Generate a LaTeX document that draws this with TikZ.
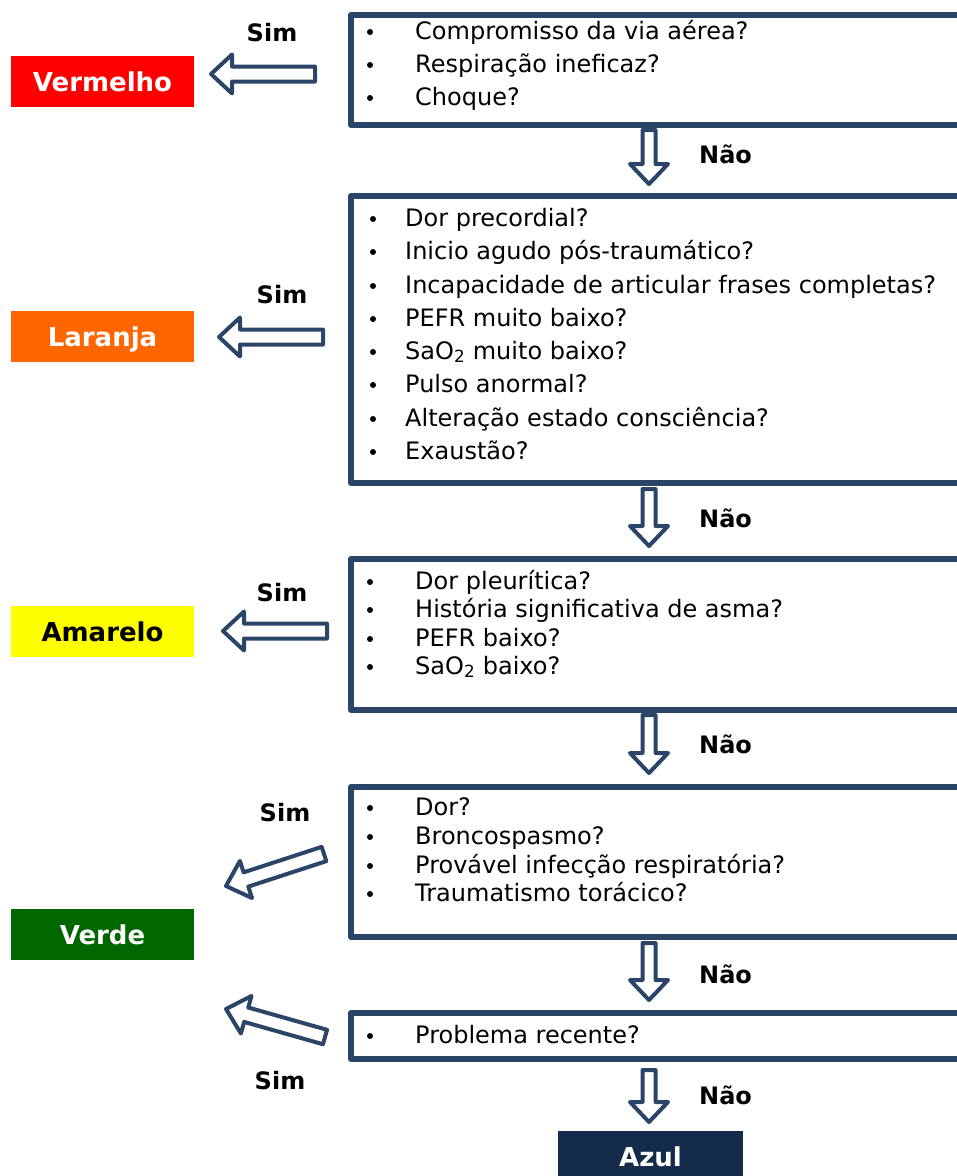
\documentclass[tikz,border=0pt]{standalone}
\usepackage{fontspec}
\setmainfont{DejaVu Sans}
\usetikzlibrary{calc}

\definecolor{frame}{HTML}{2A4568}
\definecolor{lvred}{HTML}{FF0000}
\definecolor{lvorange}{HTML}{FF6600}
\definecolor{lvyellow}{HTML}{FFFF00}
\definecolor{lvgreen}{HTML}{006600}
\definecolor{lvblue}{HTML}{152B4B}

% hollow block arrow from tail #1 to tip #2
% #3 shaft half-width, #4 head half-width, #5 head length
\newcommand{\blockarrow}[5]{%
  \coordinate (#1-#2-b) at ($(#2)!#5!(#1)$);
  \draw[blockarrow]
    ($(#1)!#3!90:(#2)$) -- ($(#1-#2-b)!#3!-90:(#1)$) -- ($(#1-#2-b)!#4!-90:(#1)$) -- (#2)
    -- ($(#1-#2-b)!#4!90:(#1)$) -- ($(#1-#2-b)!#3!90:(#1)$) -- ($(#1)!#3!-90:(#2)$) -- cycle;}

\tikzset{
  qbox/.style={draw=frame, line width=5.5pt, line join=round, anchor=north west,
    inner sep=0pt, minimum width=640pt},
  item/.style={anchor=base west, inner sep=0pt, font=\fontsize{24}{28}\selectfont},
  dot/.style={fill=black, circle, inner sep=0pt, minimum size=6pt},
  level/.style={minimum width=183pt, minimum height=51pt, inner sep=0pt,
    text height=19pt, text depth=0pt, font=\bfseries\fontsize{26}{30}\selectfont},
  answer/.style={inner sep=0pt, font=\bfseries\fontsize{24}{28}\selectfont},
  blockarrow/.style={draw=frame, line width=4pt, fill=white, line join=round}
}

\begin{document}
\begin{tikzpicture}[x=1pt, y=-1pt]
\useasboundingbox (0,0) rectangle (957,1176);
\clip (0,0) rectangle (957,1176);

% question boxes (running off the right edge)
\node[qbox, minimum height=110pt] (q1) at (348,12) {};
\node[qbox, minimum height=287pt] (q2) at (348,193) {};
\node[qbox, minimum height=151pt] (q3) at (348,556) {};
\node[qbox, minimum height=150pt] (q4) at (348,784) {};
\node[qbox, minimum height=46pt]  (q5) at (348,1010) {};

% questions
\foreach \y/\t [count=\i] in {39/{Compromisso da via aérea?},
    72/{Respiração ineficaz?}, 105/{Choque?}} {
  \node[dot] (q1-b\i) at (370,\y-7) {};
  \node[item] (q1-t\i) at (415,\y) {\t};
}
\foreach \y/\t [count=\i] in {226/{Dor precordial?},
    259/{Inicio agudo pós-traumático?},
    293/{Incapacidade de articular frases completas?},
    326/{PEFR muito baixo?},
    359/{SaO\textsubscript{2} muito baixo?},
    392/{Pulso anormal?},
    426/{Alteração estado consciência?},
    459/{Exaustão?}} {
  \node[dot] (q2-b\i) at (373,\y-7) {};
  \node[item] (q2-t\i) at (405,\y) {\t};
}
\foreach \y/\t [count=\i] in {589/{Dor pleurítica?},
    617/{História significativa de asma?},
    646/{PEFR baixo?},
    674/{SaO\textsubscript{2} baixo?}} {
  \node[dot] (q3-b\i) at (370,\y-7) {};
  \node[item] (q3-t\i) at (415,\y) {\t};
}
\foreach \y/\t [count=\i] in {815/{Dor?},
    844/{Broncospasmo?},
    873/{Provável infecção respiratória?},
    901/{Traumatismo torácico?}} {
  \node[dot] (q4-b\i) at (370,\y-7) {};
  \node[item] (q4-t\i) at (415,\y) {\t};
}
\node[dot] (q5-b1) at (370,1036) {};
\node[item] (q5-t1) at (415,1043) {Problema recente?};

% priority levels
\node[level, fill=lvred, text=white]    (vermelho) at (102.5,81.5)  {Vermelho};
\node[level, fill=lvorange, text=white] (laranja)  at (102.5,336.5) {Laranja};
\node[level, fill=lvyellow, text=black] (amarelo)  at (102.5,631.5) {Amarelo};
\node[level, fill=lvgreen, text=white]  (verde)    at (102.5,934.5) {Verde};
\node[level, fill=lvblue, text=white, minimum width=185pt, minimum height=52pt]
  (azul) at (650.5,1157) {Azul};

% "yes" arrows towards the levels
\coordinate (s1) at (315,74);   \coordinate (e1) at (211,74);
\coordinate (s2) at (323,337);  \coordinate (e2) at (219,337);
\coordinate (s3) at (327,631);  \coordinate (e3) at (223,631);
\coordinate (s4) at (324,854);  \coordinate (e4) at (226,886);
\coordinate (s5) at (325,1037); \coordinate (e5) at (226,1009);
\foreach \k in {1,...,5} {\blockarrow{s\k}{e\k}{7.5pt}{19.5pt}{21pt}}

% "no" arrows down the chain
\coordinate (n1) at (649,130);  \coordinate (m1) at (649,184);
\coordinate (n2) at (649,489);  \coordinate (m2) at (649,546);
\coordinate (n3) at (649,715);  \coordinate (m3) at (649,773);
\coordinate (n4) at (649,943);  \coordinate (m4) at (649,1000);
\coordinate (n5) at (649,1070); \coordinate (m5) at (649,1122);
\foreach \k in {1,...,5} {\blockarrow{n\k}{m\k}{6.5pt}{19pt}{20pt}}

% answer labels
\node[answer, anchor=base] (sim1) at (272,41)   {Sim};
\node[answer, anchor=base] (sim2) at (282,303)  {Sim};
\node[answer, anchor=base] (sim3) at (282,601)  {Sim};
\node[answer, anchor=base] (sim4) at (285,821)  {Sim};
\node[answer, anchor=base] (sim5) at (280,1089) {Sim};
\node[answer, anchor=base west] (nao1) at (699,163)  {Não};
\node[answer, anchor=base west] (nao2) at (699,527)  {Não};
\node[answer, anchor=base west] (nao3) at (699,753)  {Não};
\node[answer, anchor=base west] (nao4) at (699,983)  {Não};
\node[answer, anchor=base west] (nao5) at (699,1104) {Não};
\end{tikzpicture}
\end{document}
